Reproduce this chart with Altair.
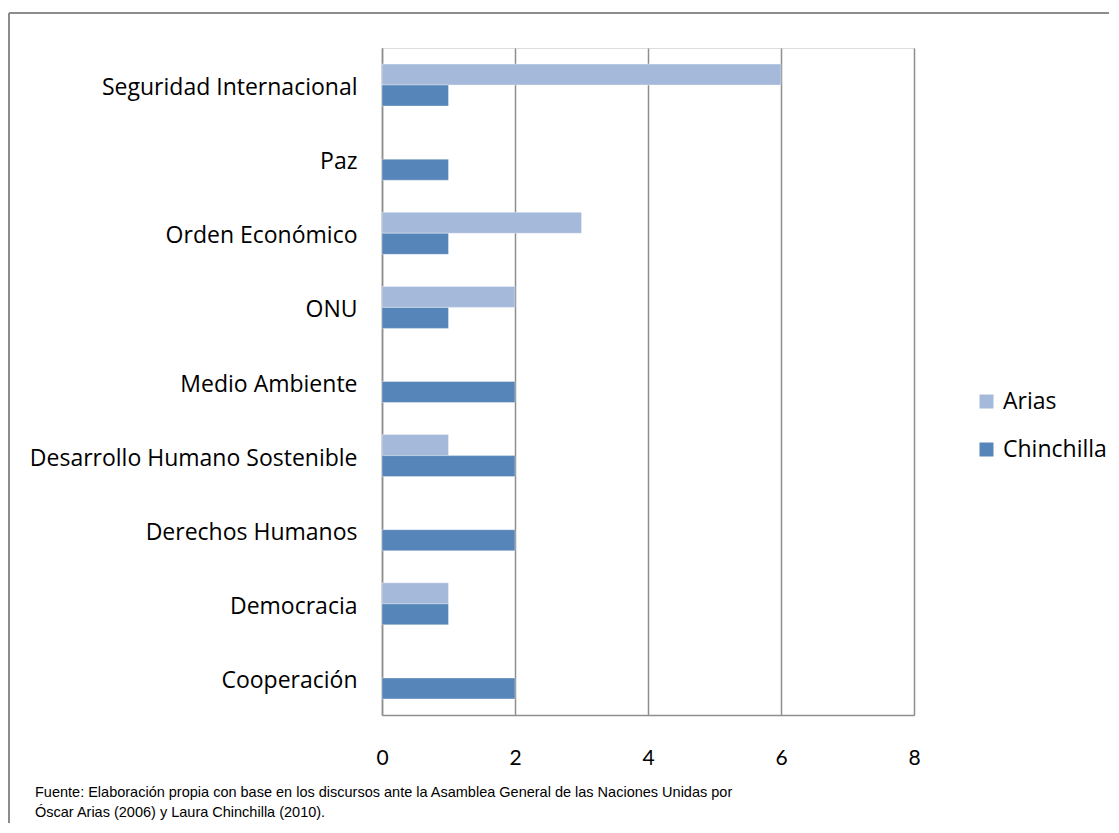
import altair as alt
import pandas as pd

categories = [
    "Seguridad Internacional",
    "Paz",
    "Orden Económico",
    "ONU",
    "Medio Ambiente",
    "Desarrollo Humano Sostenible",
    "Derechos Humanos",
    "Democracia",
    "Cooperación",
]
arias = [6, 0, 3, 2, 0, 1, 0, 1, 0]
chinchilla = [1, 1, 1, 1, 2, 2, 2, 1, 2]
series = ["Arias", "Chinchilla"]
colors = ["#A5B9DA", "#5585B9"]
x_ticks = [0, 2, 4, 6, 8]
footnote = [
    "Fuente: Elaboración propia con base en los discursos ante la Asamblea General de las Naciones Unidas por",
    "Óscar Arias (2006) y Laura Chinchilla (2010).",
]

rows = []
for c, a, ch in zip(categories, arias, chinchilla):
    rows.append({"cat": c, "serie": "Arias", "v": a})
    rows.append({"cat": c, "serie": "Chinchilla", "v": ch})
df = pd.DataFrame(rows)

GRID = "#8E8E8E"
LABEL_FONT = "Open Sans"

bars = (
    alt.Chart(df)
    .transform_filter("datum.v > 0")
    .mark_bar(stroke="white", strokeOpacity=0.35, strokeWidth=1)
    .encode(
        x=alt.X(
            "v:Q",
            scale=alt.Scale(domain=[0, 8], nice=False, zero=True),
            axis=alt.Axis(
                values=x_ticks,
                title=None,
                grid=True,
                gridColor=GRID,
                gridWidth=1.5,
                ticks=False,
                domainColor=GRID,
                domainWidth=1.5,
                labelPadding=32,
                labelFlush=False,
                labelFont="Lato",
                labelFontSize=21,
                labelColor="black",
                format="d",
            ),
        ),
        y=alt.Y(
            "cat:N",
            sort=categories,
            scale=alt.Scale(paddingInner=0.433, paddingOuter=0.2165),
            axis=alt.Axis(
                title=None,
                ticks=False,
                grid=False,
                domainColor=GRID,
                domainWidth=1.5,
                labelPadding=25,
                labelOffset=3,
                labelFont=LABEL_FONT,
                labelFontSize=23,
                labelColor="black",
                labelLimit=400,
            ),
        ),
        yOffset=alt.YOffset(
            "serie:N", sort=series, scale=alt.Scale(paddingInner=0, paddingOuter=0)
        ),
        color=alt.Color(
            "serie:N",
            scale=alt.Scale(domain=series, range=colors),
            legend=alt.Legend(
                title=None,
                orient="none",
                legendX=593,
                legendY=342,
                symbolType="square",
                symbolSize=196,
                symbolStrokeWidth=0,
                labelFont=LABEL_FONT,
                labelFontSize=23,
                labelColor="black",
                labelOffset=5,
                rowPadding=24,
            ),
        ),
    )
)

dummy = pd.DataFrame({"k": [0]})
frame_top = alt.Chart(dummy).mark_rule(color="#8C8C8C", strokeWidth=2).encode(
    x=alt.value(-373), x2=alt.value(1000), y=alt.value(-35)
)
frame_left = alt.Chart(dummy).mark_rule(color="#8C8C8C", strokeWidth=2).encode(
    x=alt.value(-373), y=alt.value(-35), y2=alt.value(900)
)

note = alt.Chart(pd.DataFrame({"t": ["\n".join(footnote)]})).mark_text(
    align="left",
    baseline="alphabetic",
    font="Liberation Sans",
    fontSize=14.5,
    lineBreak="\n",
    lineHeight=20,
    color="black",
).encode(text="t:N", x=alt.value(-347), y=alt.value(749))

chart = (
    alt.layer(frame_top, frame_left, bars, note)
    .properties(
        width=532,
        height=667,
        autosize=alt.AutoSizeParams(type="none"),
        padding={"left": 374, "top": 40, "right": 195, "bottom": 108},
    )
    .configure_view(stroke=None)
    .configure(background="white")
)

chart.save("out.html", embed_options={"renderer": "svg", "actions": False})
